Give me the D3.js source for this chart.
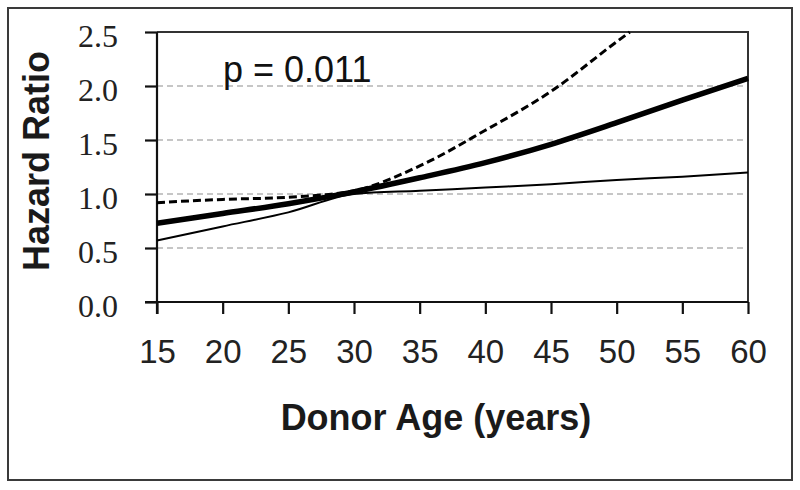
<!DOCTYPE html>
<html>
<head>
<meta charset="utf-8">
<script src="https://cdn.jsdelivr.net/npm/d3@7/dist/d3.min.js"></script>
<style>
  html, body { margin: 0; padding: 0; background: #fff; }
  svg { display: block; }
</style>
</head>
<body>
<svg id="chart" width="800" height="490"></svg>
<script>
// ---- data ----
const ages = [15, 20, 25, 30, 35, 40, 45, 50, 55, 60];
const hazardRatio = [0.73, 0.82, 0.91, 1.02, 1.15, 1.29, 1.46, 1.66, 1.87, 2.07];
const lowerCI = [0.57, 0.70, 0.83, 1.00, 1.03, 1.06, 1.09, 1.13, 1.16, 1.20];
const upperAges = [15, 20, 25, 30, 35, 40, 45, 50, 51];
const upperCI = [0.92, 0.95, 0.97, 1.03, 1.26, 1.59, 1.95, 2.41, 2.5];
const xTicks = [15, 20, 25, 30, 35, 40, 45, 50, 55, 60];
const yTicks = [0.0, 0.5, 1.0, 1.5, 2.0, 2.5];
const gridValues = [0.5, 1.0, 1.5, 2.0];
const xTitle = "Donor Age (years)";
const yTitle = "Hazard Ratio";
const pLabel = "p = 0.011";

// ---- layout ----
const svg = d3.select("#chart");
const mLeft = 157, mRight = 748, mTop = 32, mBottom = 302;
const x = d3.scaleLinear().domain([15, 60]).range([mLeft, mRight]);
const y = d3.scaleLinear().domain([0, 2.5]).range([mBottom, mTop]);

// outer frame
svg.append("rect")
  .attr("x", 8).attr("y", 8).attr("width", 784).attr("height", 472)
  .attr("fill", "none").attr("stroke", "#3a3a3a").attr("stroke-width", 2);

// gridlines
svg.append("g").selectAll("line").data(gridValues).join("line")
  .attr("x1", mLeft).attr("x2", mRight)
  .attr("y1", d => y(d)).attr("y2", d => y(d))
  .attr("stroke", "#b4b4b4").attr("stroke-width", 1.5)
  .attr("stroke-dasharray", "6,4");

// plot frame: top and right
svg.append("path")
  .attr("d", `M${mLeft},${y(2.5)}H${mRight}V${mBottom}`)
  .attr("fill", "none").attr("stroke", "#333").attr("stroke-width", 2);

// axes
const xAxis = svg.append("g").attr("transform", `translate(0,${mBottom})`)
  .call(d3.axisBottom(x).tickValues(xTicks).tickSize(12).tickSizeOuter(0).tickFormat(d3.format("d")));
xAxis.select(".domain").attr("stroke", "#111").attr("stroke-width", 2.2)
  .attr("d", `M${mLeft - 12},0H${mRight}`);
xAxis.selectAll(".tick line").attr("stroke", "#111").attr("stroke-width", 2.2);
xAxis.selectAll(".tick text")
  .attr("font-family", "'Liberation Sans', Arial, sans-serif")
  .attr("font-size", 33).attr("fill", "#222")
  .attr("y", 0).attr("dy", 61);

const yAxis = svg.append("g").attr("transform", `translate(${mLeft},0)`)
  .call(d3.axisLeft(y).tickValues(yTicks).tickSize(12).tickSizeOuter(0).tickFormat(d3.format(".1f")));
yAxis.select(".domain").attr("stroke", "#111").attr("stroke-width", 2.2)
  .attr("d", `M0,${mTop}V${mBottom + 12}`);
yAxis.selectAll(".tick line").attr("stroke", "#111").attr("stroke-width", 2.2);
yAxis.selectAll(".tick text")
  .attr("font-family", "'Liberation Serif', 'Times New Roman', serif")
  .attr("font-size", 32).attr("fill", "#222")
  .attr("x", -39).attr("dy", 14);

// lines
const lineGen = (xs, ys) => d3.line()
  .x((d, i) => x(xs[i])).y(d => y(d))
  .curve(d3.curveMonotoneX)(ys);

svg.append("path").attr("d", lineGen(ages, lowerCI))
  .attr("fill", "none").attr("stroke", "#000").attr("stroke-width", 2);
svg.append("path").attr("d", lineGen(upperAges, upperCI))
  .attr("fill", "none").attr("stroke", "#000").attr("stroke-width", 3)
  .attr("stroke-dasharray", "8,4");
svg.append("path").attr("d", lineGen(ages, hazardRatio))
  .attr("fill", "none").attr("stroke", "#000").attr("stroke-width", 5.5);

// texts
svg.append("text").attr("x", 223).attr("y", 82)
  .attr("font-family", "'Liberation Sans', Arial, sans-serif")
  .attr("font-size", 36).attr("fill", "#111").text(pLabel);

svg.append("text").attr("x", 436).attr("y", 430)
  .attr("text-anchor", "middle")
  .attr("font-family", "'Liberation Sans', Arial, sans-serif")
  .attr("font-weight", "bold").attr("font-size", 36).attr("fill", "#1a1a1a")
  .text(xTitle);

svg.append("text")
  .attr("transform", "translate(49,161) rotate(-90)")
  .attr("text-anchor", "middle")
  .attr("font-family", "'Liberation Sans', Arial, sans-serif")
  .attr("font-weight", "bold").attr("font-size", 36).attr("fill", "#1a1a1a")
  .text(yTitle);
</script>
</body>
</html>
